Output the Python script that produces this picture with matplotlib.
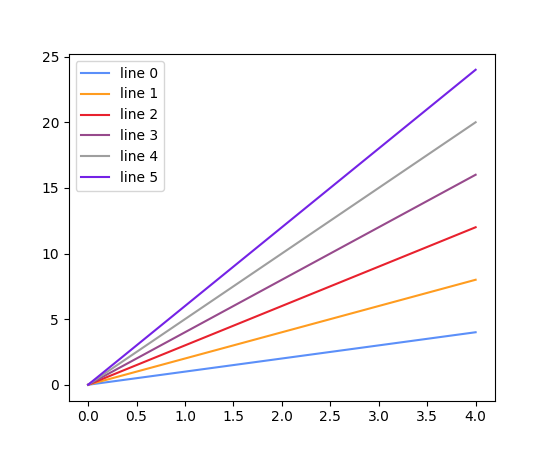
import matplotlib
matplotlib.use("Agg")
import matplotlib.pyplot as plt

x = [0, 1, 2, 3, 4]
slopes = [1, 2, 3, 4, 5, 6]
labels = ["line 0", "line 1", "line 2", "line 3", "line 4", "line 5"]
colors = ["#5b8ff9", "#ff9c1f", "#e8212e", "#974a8c", "#9e9e9e", "#7422e6"]

fig, ax = plt.subplots(figsize=(5.5, 4.5), dpi=100)
for s, lab, c in zip(slopes, labels, colors):
    ax.plot(x, [s * v for v in x], color=c, label=lab)

ax.set_xticks([0, 0.5, 1, 1.5, 2, 2.5, 3, 3.5, 4])
ax.legend(loc="upper left")

fig.savefig("out.png")
